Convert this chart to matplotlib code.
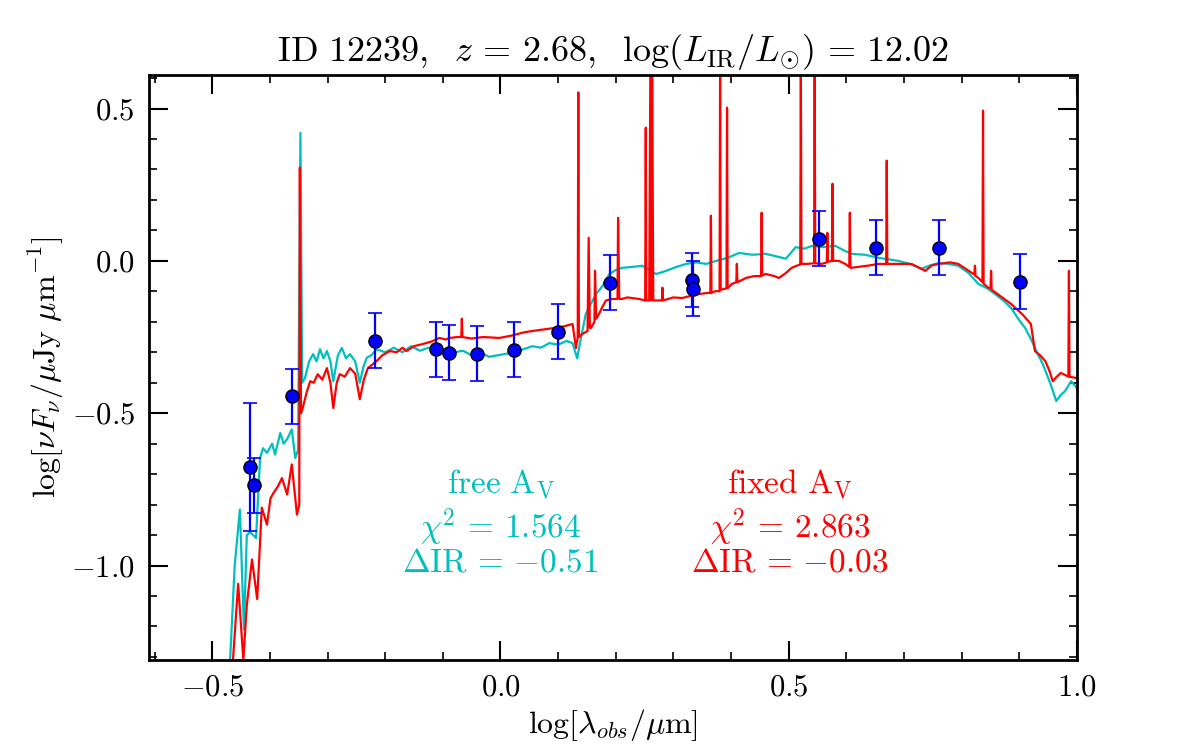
import numpy as np
import matplotlib
matplotlib.use('Agg')
import matplotlib.pyplot as plt
from matplotlib.ticker import MultipleLocator

plt.rcParams['mathtext.fontset'] = 'cm'
plt.rcParams['font.family'] = 'serif'
plt.rcParams['font.serif'] = ['cmr10', 'DejaVu Serif']
plt.rcParams['axes.formatter.use_mathtext'] = True

# model SED, free A_V (cyan)
free_x = [-0.469, -0.461, -0.452, -0.445, -0.440, -0.434, -0.424, -0.417, -0.412, -0.405,
          -0.396, -0.391, -0.382, -0.376, -0.370, -0.362, -0.356, -0.351, -0.347, -0.344,
          -0.339, -0.332, -0.325, -0.319, -0.313, -0.307, -0.301, -0.295, -0.290, -0.282,
          -0.275, -0.268, -0.261, -0.252, -0.244, -0.238, -0.232, -0.224, -0.215, -0.200,
          -0.185, -0.170, -0.155, -0.140, -0.125, -0.110, -0.095, -0.080, -0.065, -0.050,
          -0.035, -0.020, -0.005, 0.010, 0.025, 0.040, 0.055, 0.070, 0.085, 0.100,
          0.115, 0.125, 0.133, 0.140, 0.148, 0.157, 0.166, 0.178, 0.189, 0.200,
          0.211, 0.228, 0.246, 0.258, 0.270, 0.287, 0.305, 0.322, 0.340, 0.357,
          0.374, 0.394, 0.414, 0.437, 0.460, 0.478, 0.495, 0.512, 0.527, 0.540,
          0.560, 0.581, 0.595, 0.609, 0.632, 0.656, 0.673, 0.690, 0.710, 0.730,
          0.745, 0.760, 0.777, 0.794, 0.812, 0.829, 0.844, 0.858, 0.872, 0.886,
          0.898, 0.910, 0.921, 0.932, 0.941, 0.950, 0.957, 0.964, 0.972, 0.979,
          0.990, 1.000]
free_y = [-1.31, -1.00, -0.816, -1.21, -0.90, -0.89, -0.91, -0.647, -0.615, -0.63,
          -0.60, -0.636, -0.565, -0.60, -0.585, -0.553, -0.647, -0.62, 0.42, -0.40,
          -0.384, -0.33, -0.306, -0.33, -0.29, -0.32, -0.296, -0.33, -0.395, -0.31,
          -0.286, -0.32, -0.306, -0.33, -0.40, -0.35, -0.318, -0.31, -0.29, -0.30,
          -0.285, -0.30, -0.28, -0.295, -0.285, -0.30, -0.29, -0.30, -0.295, -0.31,
          -0.30, -0.315, -0.31, -0.305, -0.30, -0.29, -0.28, -0.285, -0.27, -0.275,
          -0.263, -0.27, -0.32, -0.25, -0.174, -0.14, -0.109, -0.08, -0.043, -0.03,
          -0.023, -0.02, -0.016, -0.03, -0.043, -0.033, -0.02, -0.01, -0.005, -0.01,
          0.0, 0.01, 0.026, 0.02, 0.023, 0.015, 0.007, 0.045, 0.04, 0.049,
          0.045, 0.049, 0.035, 0.023, 0.02, 0.01, 0.005, 0.0, -0.01, -0.026,
          -0.015, -0.007, -0.01, -0.016, -0.04, -0.076, -0.09, -0.109, -0.13, -0.155,
          -0.19, -0.22, -0.26, -0.306, -0.34, -0.384, -0.42, -0.46, -0.44, -0.428,
          -0.395, -0.418]

# model SED, fixed A_V (red)
fixed_x = [-0.464, -0.455, -0.446, -0.440, -0.431, -0.422, -0.414, -0.405, -0.399, -0.394,
           -0.386, -0.379, -0.370, -0.362, -0.353, -0.349, -0.348, -0.346, -0.343, -0.336,
           -0.330, -0.324, -0.317, -0.309, -0.301, -0.295, -0.290, -0.284, -0.279, -0.270,
           -0.261, -0.252, -0.244, -0.237, -0.230, -0.222, -0.215, -0.205, -0.192, -0.180,
           -0.170, -0.163, -0.150, -0.135, -0.120, -0.106, -0.095, -0.088, -0.075, -0.068,
           -0.067, -0.066, -0.050, -0.030, -0.002, 0.020, 0.040, 0.056, 0.075, 0.095,
           0.110, 0.125, 0.131, 0.134, 0.135, 0.136, 0.142, 0.151, 0.153, 0.155,
           0.157, 0.163, 0.164, 0.166, 0.171, 0.177, 0.183, 0.194, 0.203, 0.204,
           0.206, 0.211, 0.220, 0.228, 0.240, 0.251, 0.252, 0.253, 0.258, 0.260,
           0.262, 0.263, 0.265, 0.275, 0.280, 0.281, 0.282, 0.300, 0.315, 0.330,
           0.344, 0.360, 0.364, 0.365, 0.366, 0.374, 0.380, 0.381, 0.382, 0.392,
           0.393, 0.394, 0.401, 0.409, 0.410, 0.411, 0.426, 0.440, 0.452, 0.453,
           0.454, 0.460, 0.475, 0.483, 0.495, 0.505, 0.515, 0.520, 0.521, 0.522,
           0.531, 0.544, 0.545, 0.546, 0.557, 0.566, 0.567, 0.568, 0.575, 0.576,
           0.577, 0.587, 0.598, 0.605, 0.606, 0.607, 0.620, 0.640, 0.656, 0.669,
           0.670, 0.671, 0.690, 0.713, 0.737, 0.748, 0.760, 0.780, 0.794, 0.810,
           0.822, 0.823, 0.824, 0.829, 0.836, 0.837, 0.838, 0.846, 0.850, 0.851,
           0.852, 0.870, 0.886, 0.905, 0.920, 0.927, 0.936, 0.945, 0.952, 0.958,
           0.965, 0.972, 0.980, 0.985, 0.986, 0.987, 0.997, 1.005]
fixed_y = [-1.31, -1.06, -1.31, -1.13, -0.98, -1.11, -0.81, -0.866, -0.78, -0.763,
           -0.74, -0.713, -0.767, -0.668, -0.833, -0.80, 0.306, -0.50, -0.483, -0.43,
           -0.395, -0.40, -0.372, -0.39, -0.352, -0.40, -0.483, -0.40, -0.372, -0.38,
           -0.352, -0.37, -0.454, -0.39, -0.352, -0.34, -0.329, -0.31, -0.296, -0.30,
           -0.285, -0.296, -0.28, -0.273, -0.265, -0.253, -0.258, -0.253, -0.25, -0.25,
           -0.19, -0.25, -0.255, -0.25, -0.253, -0.245, -0.235, -0.23, -0.225, -0.22,
           -0.215, -0.207, -0.286, -0.25, 0.553, -0.25, -0.24, -0.23, 0.076, -0.22,
           -0.22, -0.20, -0.033, -0.19, -0.174, -0.15, -0.13, -0.125, -0.125, 0.141,
           -0.125, -0.125, -0.12, -0.122, -0.125, -0.13, 0.437, -0.13, -0.13, 0.65,
           -0.13, 0.65, -0.13, -0.13, -0.13, -0.088, -0.13, -0.12, -0.122, -0.115,
           -0.109, -0.105, -0.105, 0.148, -0.105, -0.099, -0.10, 0.65, -0.095, -0.09,
           0.503, -0.09, -0.076, -0.07, -0.01, -0.07, -0.056, -0.05, -0.05, 0.158,
           -0.048, -0.043, -0.05, -0.056, -0.04, -0.023, -0.015, -0.012, 0.65, -0.01,
           -0.01, -0.008, 0.65, -0.008, -0.01, -0.005, 0.092, -0.003, 0.0, 0.253,
           0.0, 0.0, -0.01, -0.02, 0.158, -0.023, -0.02, -0.015, -0.01, -0.01,
           0.329, -0.01, -0.01, -0.01, -0.033, -0.015, -0.01, -0.005, -0.01, -0.03,
           -0.045, -0.016, -0.05, -0.056, -0.07, 0.493, -0.075, -0.088, -0.09, -0.033,
           -0.095, -0.12, -0.142, -0.175, -0.207, -0.296, -0.31, -0.329, -0.36, -0.395,
           -0.38, -0.368, -0.375, -0.38, -0.033, -0.38, -0.384, -0.39]

# photometry
phot_x = [-0.434, -0.427, -0.362, -0.218, -0.111, -0.090, -0.040, 0.024,
          0.099, 0.190, 0.332, 0.334, 0.552, 0.652, 0.761, 0.901]
phot_y = [-0.677, -0.737, -0.445, -0.262, -0.290, -0.302, -0.305, -0.292,
          -0.232, -0.072, -0.063, -0.092, 0.072, 0.043, 0.043, -0.069]
phot_err = [0.21, 0.09, 0.09, 0.09, 0.09, 0.09, 0.09, 0.09,
            0.09, 0.09, 0.09, 0.09, 0.09, 0.09, 0.09, 0.09]

fig = plt.figure(figsize=(12, 7.5), dpi=100)
ax = fig.add_axes([0.124, 0.12, 0.7735, 0.78])

ax.plot(free_x, free_y, color='c', lw=1.6)
ax.plot(fixed_x, fixed_y, color='r', lw=1.6)
ax.errorbar(phot_x, phot_y, yerr=phot_err, fmt='o', color='b', ecolor='b',
            mec='k', mfc='b', ms=9.5, elinewidth=1.6, capsize=5, capthick=1.2, zorder=5)

ax.set_xlim(-0.61, 1.0)
ax.set_ylim(-1.31, 0.61)
ax.xaxis.set_major_locator(MultipleLocator(0.5))
ax.xaxis.set_minor_locator(MultipleLocator(0.1))
ax.yaxis.set_major_locator(MultipleLocator(0.5))
ax.yaxis.set_minor_locator(MultipleLocator(0.1))
ax.tick_params(which='both', direction='in', top=True, right=True, labelsize=22)
ax.tick_params(which='major', length=14, width=1.5, pad=10)
ax.tick_params(which='minor', length=6, width=1.2)
for s in ax.spines.values():
    s.set_linewidth(2)

ax.set_xlabel(r'$\log[\lambda_{obs}/\mu\mathrm{m}]$', fontsize=23)
ax.set_ylabel(r'$\log[\nu F_\nu/\mu\mathrm{Jy}\ \mu\mathrm{m}^{-1}]$', fontsize=23)
ax.set_title(r'$\mathrm{ID\ 12239,}\;\ z\,=\,2.68,\;\ \log(L_{\mathrm{IR}}/L_{\odot})\,=\,12.02$',
             fontsize=26, pad=10)

cx, rx = 0.379, 0.691
ax.text(cx, 0.299, r'$\mathrm{free\ A_V}$', color='c', fontsize=24,
        ha='center', va='center', transform=ax.transAxes)
ax.text(cx, 0.226, r'$\chi^2\,=\,1.564$', color='c', fontsize=24,
        ha='center', va='center', transform=ax.transAxes)
ax.text(cx, 0.166, r'$\Delta\mathrm{IR}\,=\,{-0.51}$', color='c', fontsize=24,
        ha='center', va='center', transform=ax.transAxes)
ax.text(rx, 0.299, r'$\mathrm{fixed\ A_V}$', color='r', fontsize=24,
        ha='center', va='center', transform=ax.transAxes)
ax.text(rx, 0.226, r'$\chi^2\,=\,2.863$', color='r', fontsize=24,
        ha='center', va='center', transform=ax.transAxes)
ax.text(rx, 0.166, r'$\Delta\mathrm{IR}\,=\,{-0.03}$', color='r', fontsize=24,
        ha='center', va='center', transform=ax.transAxes)

fig.savefig('out.png', dpi=100)
